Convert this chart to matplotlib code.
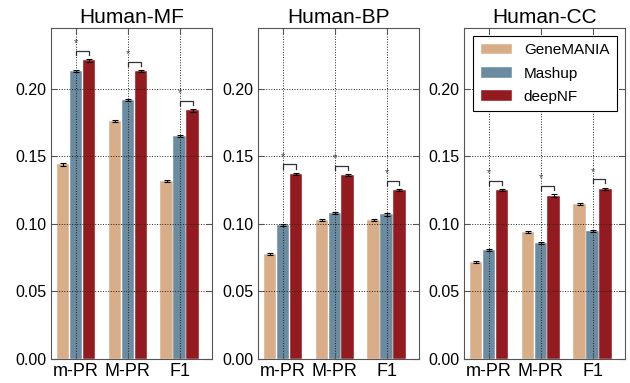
import matplotlib
matplotlib.use('Agg')
import matplotlib.pyplot as plt
import numpy as np

plt.rcParams['font.family'] = ['Liberation Sans', 'DejaVu Sans']

titles = ['Human-MF', 'Human-BP', 'Human-CC']
metrics = ['m-PR', 'M-PR', 'F1']
methods = ['GeneMANIA', 'Mashup', 'deepNF']
colors = ['#d9ad88', '#6a8ba0', '#931a1e']

# rows: m-PR, M-PR, F1
genemania = [[0.144, 0.176, 0.132], [0.078, 0.103, 0.103], [0.072, 0.094, 0.115]]
mashup = [[0.213, 0.192, 0.165], [0.099, 0.108, 0.107], [0.081, 0.086, 0.095]]
deepnf = [[0.221, 0.213, 0.184], [0.137, 0.136, 0.125], [0.125, 0.121, 0.126]]
err = 0.0008

fig = plt.figure(figsize=(6.3, 3.83), dpi=100)
lefts = [0.081, 0.4095, 0.7365]
w = 0.255
x = np.arange(3)
bw = 0.25

for k in range(3):
    ax = fig.add_axes([lefts[k], 0.0627, w, 0.864])
    series = [genemania[k], mashup[k], deepnf[k]]
    for i in range(3):
        ax.bar(x + (i - 1) * bw, series[i], bw * 0.95, color=colors[i],
               edgecolor='white', linewidth=0.3, label=methods[i],
               yerr=err, error_kw=dict(ecolor='black', capsize=2.5, elinewidth=0.8, capthick=0.8))
    # significance brackets
    for j in range(3):
        top = max(mashup[k][j], deepnf[k][j]) + 0.007
        ax.plot([j, j, j + bw, j + bw], [top - 0.003, top, top, top - 0.003],
                color='#333333', lw=0.9)
        ax.text(j, top + 0.002, '*', ha='center', va='bottom', fontsize=8, color='#444444')
    ax.set_xlim(-0.48, 2.62)
    ax.set_ylim(0, 0.245)
    ax.set_xticks(x)
    ax.set_xticklabels(metrics, fontsize=13)
    ax.set_yticks([0.0, 0.05, 0.10, 0.15, 0.20])
    ax.set_yticklabels(['0.00', '0.05', '0.10', '0.15', '0.20'], fontsize=11.5)
    ax.tick_params(direction='in', top=True, right=True, length=4, color='#555555', pad=3)
    ax.grid(True, linestyle=':', color='#222222', linewidth=0.7)
    ax.set_axisbelow(False)
    for s in ax.spines.values():
        s.set_color('#555555')
    ax.set_title(titles[k], fontsize=15, pad=4)
    if k == 2:
        leg = ax.legend(loc='upper right', fontsize=11, fancybox=False, framealpha=1,
                        edgecolor='black', handlelength=2.0, borderpad=0.5,
                        labelspacing=0.6)
        leg.get_frame().set_linewidth(0.8)

fig.savefig('out.png', dpi=100)
